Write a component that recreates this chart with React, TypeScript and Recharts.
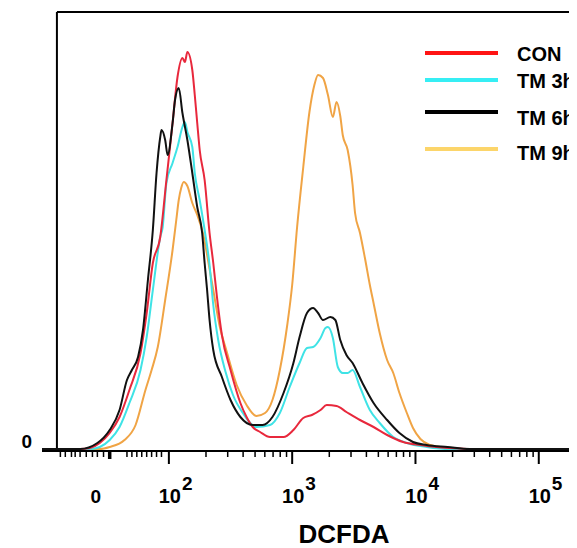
import { LineChart, Line, XAxis, YAxis, ReferenceLine } from "recharts";

const FONT = '"Liberation Sans", Arial, Helvetica, sans-serif';

// x = display position in decades (logicle-like scale), c = event count
const conX = [0.97, 1.12, 1.28, 1.36, 1.44, 1.52, 1.6, 1.68, 1.77, 1.82, 1.87, 1.93, 1.98, 2.03, 2.07, 2.11, 2.13, 2.15, 2.19, 2.21, 2.23, 2.25, 2.29, 2.33, 2.36, 2.39, 2.43, 2.5, 2.58, 2.63, 2.68, 2.74, 2.82, 2.93, 3.01, 3.09, 3.16, 3.23, 3.28, 3.36, 3.44, 3.55, 3.66, 3.77, 3.9, 4.04, 4.17, 4.28, 4.44, 5.31];
const conC = [2, 2, 2, 3, 8, 18, 34, 61, 98, 138, 188, 214, 271, 328, 374, 393, 389, 399, 381, 356, 328, 301, 271, 218, 188, 154, 116, 81, 48, 34, 24, 19, 14, 14, 21, 33, 36, 41, 46, 45, 39, 31, 24, 16, 9, 6, 4, 3, 2, 2];

const tm3X = [0.97, 1.36, 1.44, 1.52, 1.6, 1.68, 1.77, 1.82, 1.87, 1.93, 1.95, 1.98, 2.03, 2.07, 2.11, 2.13, 2.15, 2.19, 2.21, 2.25, 2.29, 2.33, 2.36, 2.4, 2.46, 2.52, 2.6, 2.71, 2.82, 2.9, 2.98, 3.06, 3.12, 3.17, 3.23, 3.27, 3.29, 3.33, 3.37, 3.41, 3.45, 3.49, 3.55, 3.63, 3.71, 3.82, 3.93, 4.09, 4.28, 5.31];
const tm3C = [2, 2, 4, 11, 24, 48, 81, 114, 161, 214, 224, 268, 288, 304, 324, 329, 319, 304, 278, 251, 221, 186, 146, 111, 79, 56, 38, 24, 26, 38, 64, 88, 103, 104, 113, 123, 124, 113, 84, 78, 78, 81, 64, 41, 28, 14, 8, 4, 2, 2];

const tm6X = [0.97, 1.28, 1.42, 1.52, 1.6, 1.66, 1.7, 1.75, 1.79, 1.83, 1.87, 1.9, 1.93, 1.94, 1.97, 1.99, 2.03, 2.05, 2.08, 2.11, 2.15, 2.19, 2.23, 2.27, 2.29, 2.31, 2.33, 2.36, 2.43, 2.5, 2.58, 2.68, 2.76, 2.84, 2.93, 3.01, 3.06, 3.12, 3.17, 3.21, 3.25, 3.31, 3.35, 3.39, 3.44, 3.49, 3.57, 3.66, 3.77, 3.87, 3.98, 4.09, 4.26, 4.44, 5.31];
const tm6C = [2, 2, 8, 21, 41, 71, 81, 94, 121, 171, 221, 278, 314, 321, 311, 296, 328, 351, 363, 338, 311, 278, 244, 218, 188, 161, 131, 101, 74, 51, 34, 26, 26, 34, 58, 88, 114, 138, 143, 138, 131, 134, 131, 111, 96, 88, 68, 48, 31, 18, 9, 6, 4, 2, 2];

const tm9X = [0.97, 1.44, 1.52, 1.64, 1.73, 1.81, 1.86, 1.91, 1.97, 2.03, 2.06, 2.08, 2.1, 2.12, 2.15, 2.19, 2.23, 2.28, 2.32, 2.36, 2.41, 2.47, 2.55, 2.63, 2.71, 2.78, 2.84, 2.9, 2.96, 3.0, 3.04, 3.09, 3.14, 3.18, 3.21, 3.25, 3.29, 3.33, 3.36, 3.39, 3.41, 3.45, 3.49, 3.51, 3.55, 3.59, 3.63, 3.66, 3.71, 3.77, 3.82, 3.87, 3.93, 3.98, 4.04, 4.12, 4.2, 4.32, 5.31];
const tm9C = [2, 2, 4, 11, 26, 61, 81, 104, 151, 201, 231, 251, 263, 269, 265, 248, 236, 216, 189, 161, 126, 99, 66, 46, 35, 38, 51, 81, 126, 166, 224, 284, 339, 366, 376, 373, 356, 334, 349, 335, 316, 301, 266, 238, 218, 193, 166, 148, 118, 91, 78, 58, 38, 23, 12, 6, 4, 2, 2];

const seriesNames = ["CON", "TM 3h", "TM 6h", "TM 9h"];
const lineColors = ["#e8283c", "#3fe3e6", "#111111", "#f0a445"];
const legendColors = ["#ff1414", "#36eef4", "#000000", "#fcd56a"];

const decades = [2, 3, 4, 5];
const zeroTick = 1.52;
const linearTicks = [1.12, 1.16, 1.21, 1.24, 1.28, 1.33, 1.38, 1.42, 1.47, 1.66, 1.7, 1.74, 1.78, 1.82, 1.86, 1.9, 1.94];
const logTicks: number[] = [];
[2, 3, 4].forEach((d) => {
  for (let k = 2; k <= 9; k++) logTicks.push(d + Math.log10(k));
});
const allTicks = [...linearTicks, zeroTick, ...logTicks, ...decades];

const W = 569;
const H = 540;
const PLOT_TOP = 4;
const AXIS_H = 97;
const AXIS_Y = H - AXIS_H;
const DOMAIN_X: [number, number] = [0.971, 5.31];
const DOMAIN_Y: [number, number] = [0, 439];
const FRAME_X = 1.092;

const zip = (xs: number[], cs: number[]) => xs.map((x, i) => ({ x, c: cs[i] }));
const series = [zip(conX, conC), zip(tm3X, tm3C), zip(tm6X, tm6C), zip(tm9X, tm9C)];
const drawOrder = [3, 1, 0, 2];

function XTick(props: any) {
  const { x, payload } = props;
  const v = payload.value;
  const dIdx = decades.findIndex((d) => Math.abs(d - v) < 1e-6);
  if (dIdx >= 0) {
    return (
      <g>
        <line x1={x} x2={x} y1={AXIS_Y} y2={AXIS_Y + 13} stroke="#000" strokeWidth={2} />
        <text x={x + 1} y={AXIS_Y + 52} textAnchor="middle" fontFamily={FONT} fontWeight="bold" fontSize={20} fill="#000">
          10
        </text>
        <text x={x + 13} y={AXIS_Y + 39} textAnchor="start" fontFamily={FONT} fontWeight="bold" fontSize={19} fill="#000">
          {decades[dIdx]}
        </text>
      </g>
    );
  }
  if (Math.abs(v - zeroTick) < 1e-6) {
    return (
      <g>
        <line x1={x} x2={x} y1={AXIS_Y} y2={AXIS_Y + 8} stroke="#000" strokeWidth={3.5} />
        <text x={x - 14} y={AXIS_Y + 52} textAnchor="middle" fontFamily={FONT} fontWeight="bold" fontSize={19} fill="#000">
          0
        </text>
      </g>
    );
  }
  return <line x1={x} x2={x} y1={AXIS_Y} y2={AXIS_Y + 6} stroke="#000" strokeWidth={1.5} />;
}

function YTick(props: any) {
  const { y } = props;
  return (
    <text x={24} y={y - 3} textAnchor="end" fontFamily={FONT} fontWeight="bold" fontSize={19} fill="#000">
      0
    </text>
  );
}

export default function App() {
  const legendY = [45, 72, 104, 141];
  const textY = [53, 80, 117, 152];
  return (
    <div style={{ position: "relative", width: W, height: H, background: "#fff" }}>
      <LineChart width={W} height={H} margin={{ top: PLOT_TOP, right: 0, bottom: 0, left: 0 }}>
        <XAxis
          dataKey="x"
          type="number"
          domain={DOMAIN_X}
          allowDataOverflow
          ticks={allTicks}
          interval={0}
          tick={<XTick />}
          tickLine={false}
          axisLine={{ stroke: "#000", strokeWidth: 2 }}
          height={AXIS_H}
        />
        <YAxis
          type="number"
          domain={DOMAIN_Y}
          allowDataOverflow
          ticks={[0]}
          width={34}
          tick={<YTick />}
          tickLine={false}
          axisLine={false}
        />
        <ReferenceLine
          segment={[{ x: FRAME_X, y: 0 }, { x: FRAME_X, y: DOMAIN_Y[1] }]}
          stroke="#000"
          strokeWidth={2}
        />
        <ReferenceLine
          segment={[{ x: FRAME_X, y: DOMAIN_Y[1] }, { x: DOMAIN_X[1], y: DOMAIN_Y[1] }]}
          stroke="#000"
          strokeWidth={2}
        />
        {drawOrder.map((i) => (
          <Line
            key={seriesNames[i]}
            data={series[i]}
            dataKey="c"
            name={seriesNames[i]}
            type="monotone"
            stroke={lineColors[i]}
            strokeWidth={2}
            dot={false}
            isAnimationActive={false}
          />
        ))}
      </LineChart>
      <svg width={W} height={H} style={{ position: "absolute", left: 0, top: 0, pointerEvents: "none" }}>
        {seriesNames.map((name, i) => (
          <g key={name}>
            <line x1={417} x2={490} y1={legendY[i]} y2={legendY[i]} stroke={legendColors[i]} strokeWidth={4} />
            <text x={509} y={textY[i]} fontFamily={FONT} fontWeight="bold" fontSize={20} fill="#000">
              {name}
            </text>
          </g>
        ))}
        <text x={336} y={535} textAnchor="middle" fontFamily={FONT} fontWeight="bold" fontSize={26} fill="#000">
          DCFDA
        </text>
      </svg>
    </div>
  );
}
